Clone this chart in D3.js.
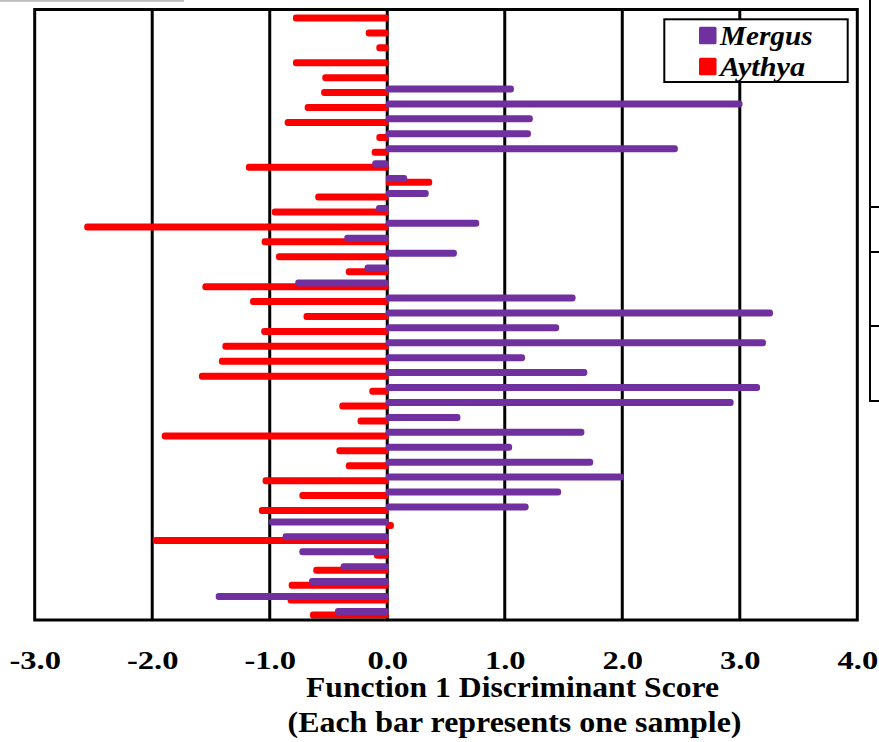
<!DOCTYPE html>
<html>
<head>
<meta charset="utf-8">
<script src="https://cdn.jsdelivr.net/npm/d3@7/dist/d3.min.js"></script>
<style>
  html, body { margin: 0; padding: 0; background: #fff; }
  svg { display: block; }
  text { font-family: "Liberation Serif", "Times New Roman", serif; font-weight: bold; fill: #000; }
</style>
</head>
<body>
<script>
// ---- data ----
const samples = d3.range(41); // one bar pair per sample, top to bottom
const mergus = [0, 0, 0, 0, 0, 1.065, 3.01, 1.226, 1.21, 2.46,
  -0.115, 0.157, 0.34, -0.083, 0.77, -0.353, 0.58, -0.18, -0.77, 1.59,
  3.27, 1.45, 3.21, 1.16, 1.69, 3.16, 2.935, 0.61, 1.665, 1.05,
  1.74, 2.0, 1.467, 1.19, -0.993, -0.877, -0.735, -0.384, -0.653, -1.447, -0.432];
const aythya = [-0.79, -0.17, -0.08, -0.79, -0.54, -0.55, -0.69, -0.86, -0.08, -0.12,
  -1.19, 0.37, -0.60, -0.97, -2.566, -1.056, -0.934, -0.34, -1.56, -1.155,
  -0.70, -1.06, -1.39, -1.42, -1.59, -0.14, -0.395, -0.24, -1.906, -0.42,
  -0.34, -1.048, -0.735, -1.08, 0.044, -1.983, -0.10, -0.617, -0.826, -0.835, -0.645];
const xTicks = [-3, -2, -1, 0, 1, 2, 3, 4];
const seriesNames = ["Mergus", "Aythya"];
const seriesColors = ["#7030A0", "#FF0000"];
const titleLines = ["Function 1 Discriminant Score", "(Each bar represents one sample)"];

// ---- layout ----
const W = 879, H = 742;
const plot = { left: 34.7, right: 857.3, top: 9.5, bottom: 620 };

const svg = d3.select("body").append("svg").attr("width", W).attr("height", H);

const x = d3.scaleLinear().domain([-3, 4]).range([plot.left, plot.right]);
const y = d3.scaleBand().domain(samples).range([8.7, 620.7]).padding(0);

// stray artifacts visible in the original figure
svg.append("line").attr("x1", 0).attr("x2", 184).attr("y1", 0.8).attr("y2", 0.8)
  .attr("stroke", "#bbb").attr("stroke-width", 2);
const br = svg.append("g").attr("stroke", "#000").attr("stroke-width", 2);
br.append("line").attr("x1", 870).attr("x2", 870).attr("y1", 0).attr("y2", 401);
[207, 252, 326, 401].forEach(v => {
  br.append("line").attr("x1", 869).attr("x2", 880).attr("y1", v).attr("y2", v);
});

// gridlines
svg.append("g").selectAll("line").data(xTicks.slice(1, -1)).join("line")
  .attr("x1", d => x(d)).attr("x2", d => x(d))
  .attr("y1", plot.top).attr("y2", plot.bottom)
  .attr("stroke", "#000").attr("stroke-width", 3);

// bars
const barH = 7;
const offs = [-5.3, -1.7];
function drawSeries(vals, idx) {
  svg.append("g").selectAll("rect").data(samples.filter(i => vals[i] !== 0)).join("rect")
    .attr("x", i => Math.min(x(0), x(vals[i])) - 1.5)
    .attr("width", i => Math.abs(x(vals[i]) - x(0)) + 3)
    .attr("y", i => y(i) + y.bandwidth() / 2 + offs[idx])
    .attr("height", barH)
    .attr("rx", 3).attr("ry", 3)
    .attr("fill", seriesColors[idx]);
}
drawSeries(aythya, 1);
drawSeries(mergus, 0);

// plot border
svg.append("rect").attr("x", plot.left).attr("y", plot.top)
  .attr("width", plot.right - plot.left).attr("height", plot.bottom - plot.top)
  .attr("fill", "none").attr("stroke", "#000").attr("stroke-width", 3);

// x axis labels
const ax = svg.append("g").attr("transform", `translate(0,${plot.bottom})`)
  .call(d3.axisBottom(x).tickValues(xTicks).tickSize(0).tickFormat(d => d.toFixed(1)));
ax.select(".domain").remove();
ax.selectAll("text")
  .attr("y", 49.5).attr("dy", null)
  .attr("font-family", "Liberation Serif").attr("font-weight", "bold")
  .attr("font-size", 24.5)
  .attr("transform", "scale(1.33,1)")
  .style("fill", "#000");

// axis title
svg.append("text").attr("x", 306).attr("y", 697)
  .attr("font-size", 28.7).attr("textLength", 413).attr("lengthAdjust", "spacingAndGlyphs")
  .text(titleLines[0]);
svg.append("text").attr("x", 287.5).attr("y", 731.5)
  .attr("font-size", 28.7).attr("textLength", 454).attr("lengthAdjust", "spacingAndGlyphs")
  .text(titleLines[1]);

// legend
const lg = svg.append("g");
lg.append("rect").attr("x", 664.3).attr("y", 19.3).attr("width", 183.4).attr("height", 62.7)
  .attr("fill", "#fff").attr("stroke", "#000").attr("stroke-width", 2);
const legendY = [35.5, 66.5];
const legendW = [92.5, 85];
seriesNames.forEach((n, i) => {
  lg.append("rect").attr("x", 699).attr("y", legendY[i] - 8.7).attr("width", 17.5).attr("height", 17.5)
    .attr("rx", 1.5).attr("fill", seriesColors[i]);
  lg.append("text").attr("x", 720).attr("y", legendY[i] + 9.5)
    .attr("font-size", 27.5).attr("font-style", "italic")
    .attr("textLength", legendW[i]).attr("lengthAdjust", "spacingAndGlyphs")
    .text(n);
});
</script>
</body>
</html>
